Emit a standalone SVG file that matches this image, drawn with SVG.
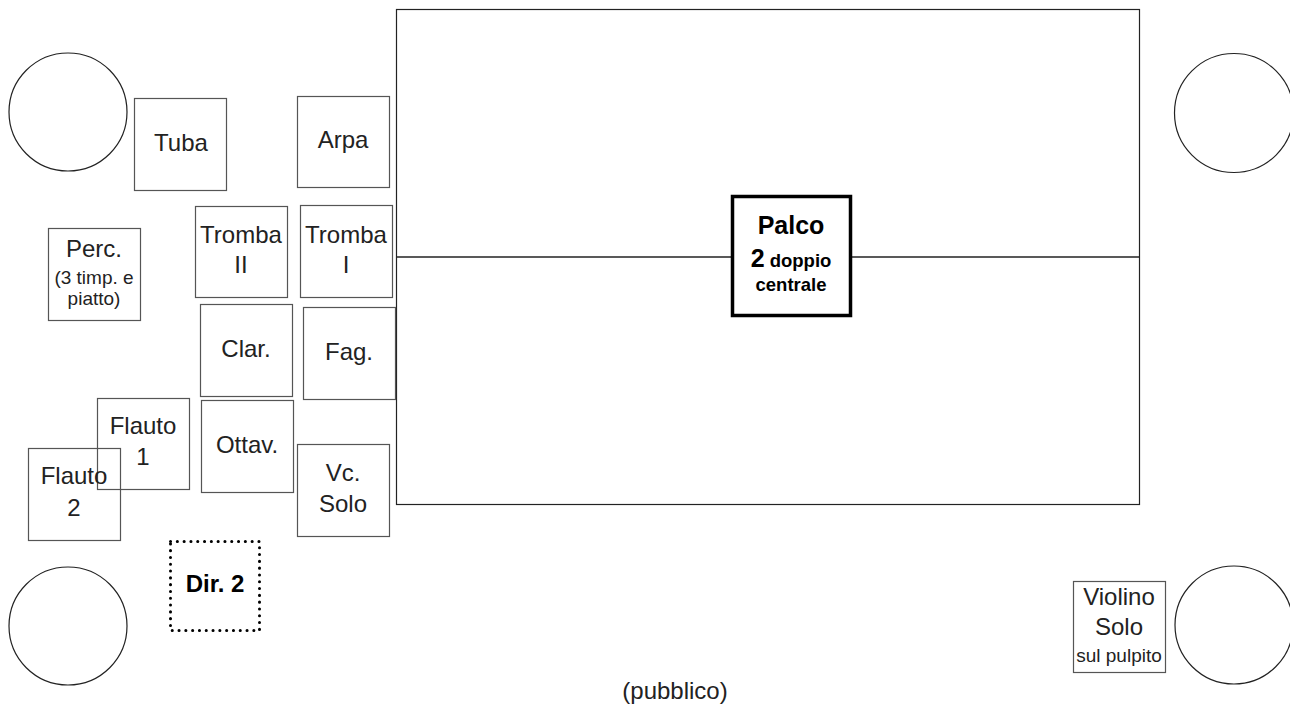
<svg xmlns="http://www.w3.org/2000/svg" width="1290" height="708" viewBox="0 0 1290 708">
<style>
.bx{fill:#fff;stroke:#555;stroke-width:1.2}
.c{fill:none;stroke:#222;stroke-width:1.2}
text{font-family:"Liberation Sans",Arial,sans-serif;fill:#222;text-anchor:middle}
.t{font-size:24px}
.s{font-size:19px}
.b{font-weight:bold;fill:#000}
</style>
<rect width="1290" height="708" fill="#fff"/>
<g id="circles">
<circle class="c" cx="68" cy="112" r="59"/>
<circle class="c" cx="1234" cy="113" r="59.5"/>
<circle class="c" cx="68" cy="626" r="59"/>
<circle class="c" cx="1234" cy="625" r="59"/>
</g>
<g id="stage">
<rect x="396.5" y="9.5" width="743" height="495" fill="#fff" stroke="#222" stroke-width="1.2"/>
</g>
<g id="connectors">
<line x1="397" y1="257" x2="731" y2="257" stroke="#222" stroke-width="1.6"/>
<line x1="852" y1="257" x2="1139" y2="257" stroke="#222" stroke-width="1.6"/>
</g>
<g id="palco">
<rect x="732.5" y="196.5" width="118" height="119" fill="#fff" stroke="#000" stroke-width="3.5"/>
<text class="b" x="791" y="234" font-size="25">Palco</text>
<text class="b" x="791" y="267"><tspan font-size="25">2</tspan><tspan font-size="18.5"> doppio</tspan></text>
<text class="b" x="791" y="291" font-size="18.5">centrale</text>
</g>
<g id="tuba"><rect class="bx" x="134.5" y="98.5" width="92" height="92"/><text class="t" x="181" y="151">Tuba</text></g>
<g id="arpa"><rect class="bx" x="297.5" y="96.5" width="92" height="91"/><text class="t" x="343" y="148">Arpa</text></g>
<g id="tromba2"><rect class="bx" x="195.5" y="206.5" width="92" height="91"/><text class="t" x="241" y="243">Tromba</text><text class="t" x="241" y="273">II</text></g>
<g id="tromba1"><rect class="bx" x="300.5" y="205.5" width="92" height="92"/><text class="t" x="346" y="243">Tromba</text><text class="t" x="346" y="273">I</text></g>
<g id="perc"><rect class="bx" x="48.5" y="228.5" width="92" height="92"/><text class="t" x="94" y="257">Perc.</text><text class="s" x="94" y="284">(3 timp. e</text><text class="s" x="94" y="305">piatto)</text></g>
<g id="clar"><rect class="bx" x="200.5" y="304.5" width="92" height="92"/><text class="t" x="246" y="357">Clar.</text></g>
<g id="fag"><rect class="bx" x="303.5" y="307.5" width="92" height="92"/><text class="t" x="349" y="360">Fag.</text></g>
<g id="ottav"><rect class="bx" x="201.5" y="400.5" width="92" height="92"/><text class="t" x="247" y="453">Ottav.</text></g>
<g id="flauto1"><rect x="97.5" y="398.5" width="92" height="91" fill="none" stroke="#555" stroke-width="1.2"/><text class="t" x="143" y="434">Flauto</text><text class="t" x="143" y="465">1</text></g>
<g id="flauto2"><rect x="28.5" y="448.5" width="92" height="92" fill="none" stroke="#555" stroke-width="1.2"/><text class="t" x="74" y="484">Flauto</text><text class="t" x="74" y="516">2</text></g>
<g id="vcsolo"><rect class="bx" x="297.5" y="444.5" width="92" height="92"/><text class="t" x="343" y="481">Vc.</text><text class="t" x="343" y="512">Solo</text></g>
<g id="dir2"><rect x="170.5" y="541.5" width="89" height="89" fill="none" stroke="#000" stroke-width="3" stroke-dasharray="0.1 6.7" stroke-linecap="round"/><text class="t b" x="215" y="592">Dir. 2</text></g>
<g id="violino"><rect class="bx" x="1073.5" y="581.5" width="92" height="91"/><text class="t" x="1119" y="605">Violino</text><text class="t" x="1119" y="635">Solo</text><text class="s" x="1119" y="662">sul pulpito</text></g>
<g id="pubblico"><text x="675" y="699" font-size="24">(pubblico)</text></g>
</svg>
